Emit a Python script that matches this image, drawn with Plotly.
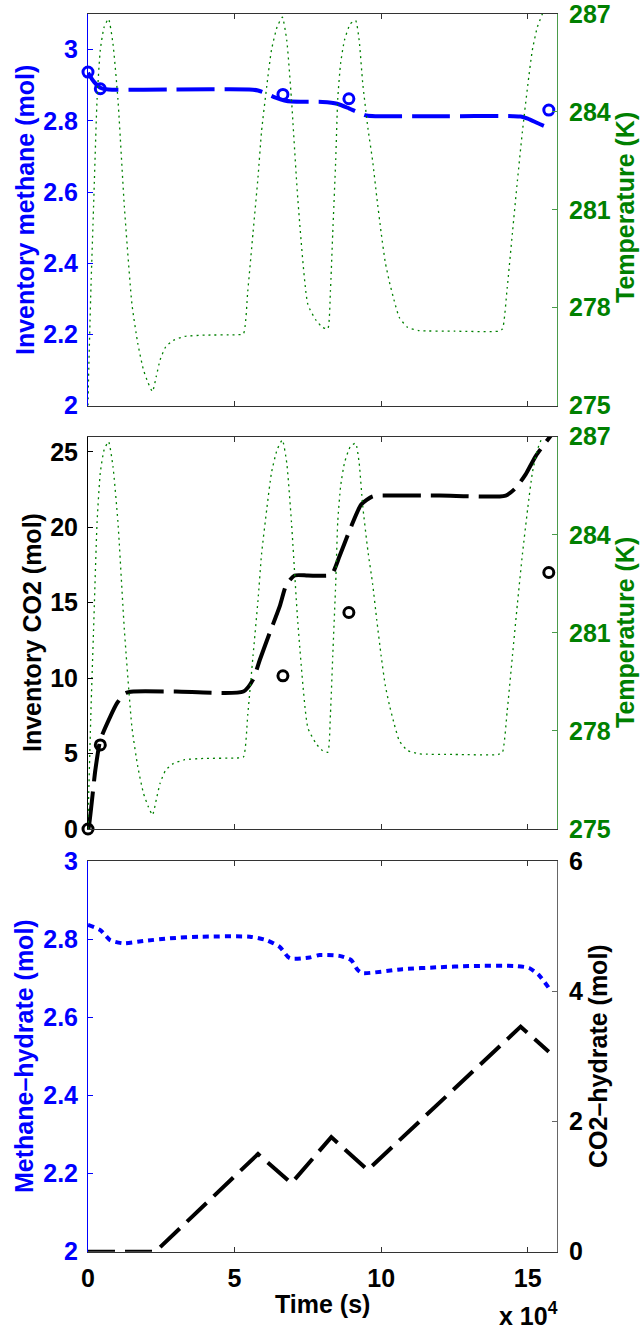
import plotly.graph_objects as go

# ---------------- data (time in 1e4 s) ----------------
temp_t = [0, 0.02, 0.1, 0.19, 0.31, 0.42, 0.55, 0.7, 0.85, 1.02, 1.24, 1.5, 1.7, 1.89, 2.05, 2.2,
          2.33, 2.46, 2.65, 2.91, 3.3, 4.0, 5.0, 5.3, 5.45, 5.63, 5.8, 5.92, 6.1, 6.26, 6.45, 6.63,
          6.78, 6.94, 7.16, 7.5, 7.79, 8.0, 8.18, 8.27, 8.35, 8.45, 8.52, 8.62, 8.75, 8.95, 9.13,
          9.25, 9.37, 9.55, 9.71, 9.85, 10.0, 10.14, 10.28, 10.45, 10.62, 10.9, 11.3, 12.5, 14.0,
          14.14, 14.3, 14.48, 14.65, 14.82, 15.0, 15.16, 15.33, 15.5, 15.75]
temp_K = [275.0, 275.9, 278.6, 281.1, 284.4, 285.9, 286.6, 286.85, 286.1, 284.4, 281.1, 278.1, 276.9,
          276.1, 275.7, 275.43, 275.9, 276.4, 276.8, 277.0, 277.12, 277.16, 277.17, 277.2, 278.5,
          280.3, 282.0, 283.4, 284.8, 285.9, 286.6, 286.9, 286.2, 284.4, 281.3, 278.1, 277.6, 277.4,
          277.35, 278.5, 280.3, 282.5, 284.4, 285.5, 286.2, 286.7, 286.8, 286.2, 284.9, 283.5,
          282.5, 281.4, 280.3, 279.4, 278.8, 278.2, 277.7, 277.4, 277.3, 277.28, 277.28, 277.35,
          278.6, 280.3, 281.9, 283.4, 284.8, 285.9, 286.6, 287.0, 287.6]

ch4_inv_t = [0, 0.2, 0.42, 0.7, 3.0, 5.5, 5.8, 6.1, 6.4, 6.7, 6.95, 8.0, 8.5, 8.9, 9.2, 9.5, 9.8,
             12.0, 14.5, 14.76, 15.0, 15.35, 15.72]
ch4_inv = [2.935, 2.91, 2.893, 2.888, 2.888, 2.888, 2.885, 2.876, 2.865, 2.857, 2.854, 2.853, 2.848,
           2.835, 2.824, 2.815, 2.813, 2.813, 2.813, 2.812, 2.806, 2.793, 2.780]
ch4_exp_t = [0, 0.42, 6.65, 8.9, 15.72]
ch4_exp = [2.937, 2.89, 2.874, 2.862, 2.83]

co2_inv_t = [0, 0.02, 0.25, 0.42, 0.76, 0.99, 1.27, 1.55, 3.0, 5.3, 5.63, 5.86, 6.2, 6.54, 6.77,
             7.05, 7.5, 8.24, 8.35, 8.58, 8.98, 9.32, 9.71, 10.17, 12.0, 14.25, 14.59, 14.93, 15.27,
             15.8]
co2_inv = [0, 0.05, 3.9, 5.9, 7.45, 8.34, 9.0, 9.11, 9.11, 9.11, 9.9, 11.2, 13.0, 14.75, 16.2, 16.8,
           16.8, 16.8, 16.97, 18.07, 20.06, 21.5, 22.05, 22.1, 22.1, 22.1, 22.6, 23.5, 24.7, 26.1]
co2_exp_t = [0, 0.42, 6.65, 8.9, 15.72]
co2_exp = [0.0, 5.57, 10.15, 14.35, 17.0]

ch4_hyd_t = [0, 0.42, 0.76, 1.21, 1.89, 2.8, 3.83, 5.52, 6.09, 6.54, 6.88, 7.56, 7.9, 8.58, 8.98,
             9.2, 9.37, 10.73, 12.0, 13.0, 14.6, 15.05, 15.38, 15.73]
ch4_hyd = [2.836, 2.823, 2.797, 2.789, 2.795, 2.802, 2.806, 2.806, 2.797, 2.780, 2.751, 2.753, 2.759,
           2.757, 2.746, 2.721, 2.713, 2.723, 2.728, 2.731, 2.731, 2.726, 2.708, 2.674]

co2_hyd_t = [0, 2.3, 5.8, 6.94, 8.3, 9.54, 14.76, 15.72]
co2_hyd = [0, 0, 1.5, 1.05, 1.76, 1.254, 3.455, 3.07]

x_ticks = [0, 5, 10, 15]
ch4_ticks = [2, 2.2, 2.4, 2.6, 2.8, 3]
temp_ticks = [275, 278, 281, 284, 287]
co2_ticks = [0, 5, 10, 15, 20, 25]
co2h_ticks = [0, 2, 4, 6]

# ---------------- style ----------------
W, H = 641, 1330
BLUE = "#0000ff"
GREEN = "#008000"
BLACK = "#000000"
FONT = "Liberation Sans"
FS = 25

x0, x1 = 88, 557
def ydom(top, bot):
    return [1 - bot / H, 1 - top / H]
P1 = ydom(14, 405.6)
P2 = ydom(436.7, 829)
P3 = ydom(860.9, 1251.7)
XD = [x0 / W, x1 / W]

fig = go.Figure()

temp_line = dict(color=GREEN, width=1.3, dash="2px,4px")
# Panel 1
fig.add_trace(go.Scatter(x=ch4_inv_t, y=ch4_inv, mode="lines", xaxis="x", yaxis="y",
                         line=dict(color=BLUE, width=4, dash="38px,10px", shape="spline", smoothing=0.6)))
fig.add_trace(go.Scatter(x=ch4_exp_t, y=ch4_exp, mode="markers", xaxis="x", yaxis="y", cliponaxis=False,
                         marker=dict(symbol="circle-open", size=10, color=BLUE, line=dict(width=3, color=BLUE))))
fig.add_trace(go.Scatter(x=temp_t, y=temp_K, mode="lines", xaxis="x", yaxis="y2",
                         line=dict(temp_line, shape="spline", smoothing=0.5)))
# Panel 2
fig.add_trace(go.Scatter(x=co2_inv_t, y=co2_inv, mode="lines", xaxis="x2", yaxis="y3",
                         line=dict(color=BLACK, width=4, dash="38px,10px", shape="spline", smoothing=0.6)))
fig.add_trace(go.Scatter(x=co2_exp_t, y=co2_exp, mode="markers", xaxis="x2", yaxis="y3", cliponaxis=False,
                         marker=dict(symbol="circle-open", size=10, color=BLACK, line=dict(width=3, color=BLACK))))
fig.add_trace(go.Scatter(x=temp_t, y=temp_K, mode="lines", xaxis="x2", yaxis="y4",
                         line=dict(temp_line, shape="spline", smoothing=0.5)))
# Panel 3
fig.add_trace(go.Scatter(x=ch4_hyd_t, y=ch4_hyd, mode="lines", xaxis="x3", yaxis="y5",
                         line=dict(color=BLUE, width=4, dash="6px,5px", shape="spline", smoothing=0.6)))
fig.add_trace(go.Scatter(x=co2_hyd_t, y=co2_hyd, mode="lines", xaxis="x3", yaxis="y6",
                         line=dict(color=BLACK, width=4, dash="27px,10px")))

tf = lambda c: dict(family=FONT, size=FS, color=c, weight="bold")

def xax(anchor, labels):
    return dict(domain=XD, anchor=anchor, range=[0, 16], tickvals=x_ticks,
                ticktext=[str(v) for v in x_ticks],
                showticklabels=labels, ticks="inside", ticklen=5, tickcolor="#333",
                showline=True, linecolor="#333", linewidth=1, mirror="ticks", automargin=False,
                showgrid=False, zeroline=False, tickfont=tf(BLACK), ticklabelstandoff=4,
                ticklabeloverflow="allow")

def yleft(dom, anchor, rng, ticks, color, lcolor):
    return dict(domain=dom, anchor=anchor, range=rng, tickvals=ticks, side="left",
                ticks="inside", ticklen=5, tickcolor=lcolor, showline=True, linecolor=lcolor,
                linewidth=1, showgrid=False, zeroline=False, tickfont=tf(color), automargin=False,
                ticklabelstandoff=4, ticklabeloverflow="allow")

def yright(over, anchor, rng, ticks, color, lcolor):
    return dict(overlaying=over, anchor=anchor, range=rng, tickvals=ticks, side="right",
                ticks="inside", ticklen=5, tickcolor=lcolor, showline=True, linecolor=lcolor,
                linewidth=1, showgrid=False, zeroline=False, tickfont=tf(color), automargin=False,
                ticklabelstandoff=6, ticklabeloverflow="allow")

fig.update_layout(
    width=W, height=H, autosize=False, margin=dict(l=0, r=0, t=0, b=0, autoexpand=False),
    paper_bgcolor="white", plot_bgcolor="white", showlegend=False,
    xaxis=xax("y", False), xaxis2=xax("y3", False), xaxis3=xax("y5", True),
    yaxis=yleft(P1, "x", [2, 3.1], ch4_ticks, BLUE, BLUE),
    yaxis2=yright("y", "x", [275, 287], temp_ticks, GREEN, "#4a9a4a"),
    yaxis3=yleft(P2, "x2", [0, 26], co2_ticks, BLACK, BLACK),
    yaxis4=yright("y3", "x2", [275, 287], temp_ticks, GREEN, "#4a9a4a"),
    yaxis5=yleft(P3, "x3", [2, 3], ch4_ticks, BLUE, BLUE),
    yaxis6=yright("y5", "x3", [0, 6], co2h_ticks, BLACK, "#666"),
)

def ann(text, x, y, color, angle=0, xanchor="center"):
    fig.add_annotation(text=text, x=x / W, y=1 - y / H, xref="paper", yref="paper",
                       showarrow=False, textangle=angle, xanchor=xanchor, yanchor="middle",
                       font=tf(color))

ann("Inventory methane (mol)", 25, 210, BLUE, -90)
ann("Temperature (K)", 625, 208, GREEN, -90)
ann("Inventory CO2 (mol)", 32, 633, BLACK, -90)
ann("Temperature (K)", 625, 633, GREEN, -90)
ann("Methane–hydrate (mol)", 24, 1056, BLUE, -90)
ann("CO2–hydrate (mol)", 598, 1056, BLACK, -90)
ann("Time (s)", 322.5, 1304, BLACK)
ann("x 10<sup>4</sup>", 560, 1314, BLACK, 0, "right")

fig.write_html("out.html")
